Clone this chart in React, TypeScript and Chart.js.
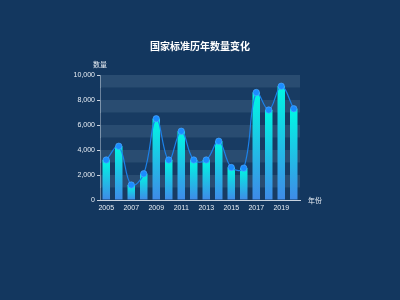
import React, { useEffect, useRef } from "react";
import { Chart, registerables } from "chart.js";

Chart.register(...registerables);

const years = ["2005","2006","2007","2008","2009","2010","2011","2012","2013","2014","2015","2016","2017","2018","2019","2020"];
const counts = [3200, 4300, 1200, 2100, 6500, 3200, 5500, 3200, 3200, 4700, 2600, 2550, 8600, 7200, 9100, 7300];
const titleText = "国家标准历年数量变化";
const yName = "数量";
const xName = "年份";

const BG = "#13375f";

export default function App() {
  const ref = useRef<HTMLCanvasElement | null>(null);
  useEffect(() => {
    const canvas = ref.current!;

    const barColor = (c: any) => {
      const chart = c.chart;
      const area = chart.chartArea;
      if (!area || !chart.scales.y || c.dataIndex === undefined) return "#1fd0e8";
      const y = chart.scales.y;
      const top = y.getPixelForValue(counts[c.dataIndex]);
      const bot = y.getPixelForValue(0);
      const g = chart.ctx.createLinearGradient(0, top, 0, bot);
      g.addColorStop(0, "#00f7e3");
      g.addColorStop(1, "#3f8ae8");
      return g;
    };

    const stripes = {
      id: "stripes",
      beforeDatasetsDraw(chart: any) {
        const { ctx, chartArea } = chart;
        const y = chart.scales.y;
        ctx.save();
        for (let v = 0; v < 10000; v += 1000) {
          const idx = v / 1000;
          const top = y.getPixelForValue(v + 1000);
          const bot = y.getPixelForValue(v);
          ctx.fillStyle = idx % 2 === 1 ? "rgba(60,95,128,0.55)" : "rgba(30,64,100,0.55)";
          ctx.fillRect(chartArea.left, top, chartArea.right - chartArea.left, bot - top);
        }
        ctx.restore();
      },
      afterDraw(chart: any) {
        const { ctx, chartArea } = chart;
        ctx.save();
        ctx.fillStyle = "#ffffff";
        ctx.textAlign = "center";
        ctx.textBaseline = "middle";
        ctx.font = "bold 10px 'Noto Sans CJK SC', sans-serif";
        ctx.fillText(titleText, 200, 46);
        ctx.font = "7px 'Noto Sans CJK SC', sans-serif";
        ctx.fillStyle = "#e8eef5";
        ctx.fillText(yName, chartArea.left, 64);
        ctx.textAlign = "left";
        ctx.fillText(xName, chartArea.right + 8, chartArea.bottom);
        ctx.restore();
      },
    };

    const chart = new Chart(canvas, {
      data: {
        labels: years,
        datasets: [
          {
            type: "line",
            data: counts,
            borderColor: "#1c82ea",
            borderWidth: 1.2,
            tension: 0.4,
            pointRadius: 3.2,
            pointBackgroundColor: "#1a8cff",
            pointBorderColor: "rgba(80,170,255,0.8)",
            pointBorderWidth: 0.8,
            order: 0,
          },
          {
            type: "bar",
            data: counts,
            backgroundColor: barColor,
            categoryPercentage: 0.6,
            barPercentage: 1,
            order: 1,
          },
        ],
      } as any,
      options: {
        animation: false,
        responsive: false,
        maintainAspectRatio: false,
        layout: { padding: { left: 0, top: 75, right: 100, bottom: 0 } },
        plugins: { legend: { display: false }, tooltip: { enabled: false }, title: { display: false } },
        scales: {
          x: {
            offset: true,
            grid: { display: false, offset: true, drawOnChartArea: false, drawTicks: true, tickLength: 3, color: "#c9d3df" },
            border: { display: true, color: "#c9d3df" },
            ticks: {
              color: "#e8eef5",
              font: { size: 7, family: "'Liberation Sans', sans-serif" },
              autoSkip: false,
              maxRotation: 0,
              padding: 1,
              callback: (v: any, i: number) => (i % 2 === 0 ? years[i] : ""),
            },
            afterFit: (s: any) => { s.height = 100; },
          },
          y: {
            min: 0,
            max: 10000,
            grid: { display: true, drawOnChartArea: false, drawTicks: true, tickLength: 3, color: "#c9d3df" },
            border: { display: true, color: "#c9d3df" },
            ticks: {
              stepSize: 2000,
              color: "#e8eef5",
              font: { size: 7, family: "'Liberation Sans', sans-serif" },
              padding: 2,
              callback: (v: any) => Number(v).toLocaleString("en-US"),
            },
            afterFit: (s: any) => { s.width = 100; },
          },
        },
      },
      plugins: [stripes],
    });
    return () => chart.destroy();
  }, []);
  return (
    <div style={{ position: "fixed", left: 0, top: 0, width: 400, height: 300, background: BG }}>
      <canvas ref={ref} width={400} height={300} style={{ display: "block" }} />
    </div>
  );
}
